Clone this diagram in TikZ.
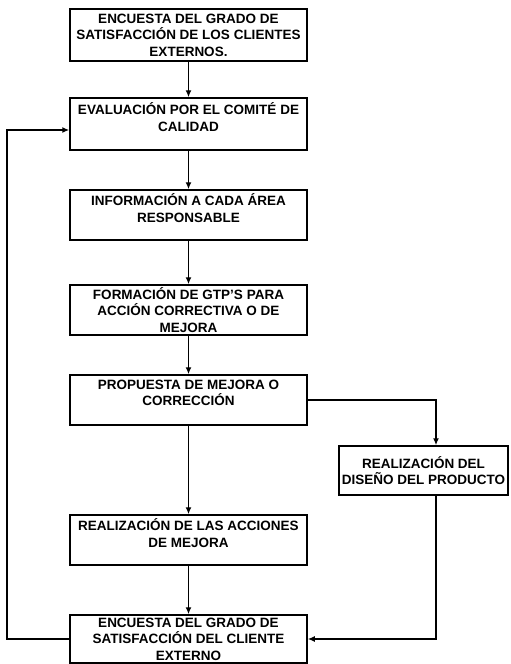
\documentclass[tikz,border=0pt]{standalone}
\usepackage{fontspec}
\setmainfont{Liberation Sans}
\usetikzlibrary{arrows.meta}

\tikzset{
  caja/.style={draw, line width=1.5pt, minimum width=237pt, minimum height=50pt,
    inner sep=2pt, align=center, font=\fontsize{13.5}{16.5}\selectfont\bfseries},
  dos/.style={text depth=14pt},
  flecha/.style={-{Latex[length=7pt,width=6pt]}, line width=1.5pt}
}

\begin{document}
\begin{tikzpicture}[x=1pt, y=-1pt]
  \useasboundingbox (0,0) rectangle (511,664);

  \node[caja, minimum height=52pt] (enc1) at (188.5,35) {ENCUESTA DEL GRADO DE\\SATISFACCIÓN DE LOS CLIENTES\\EXTERNOS.};
  \node[caja, dos, minimum height=52pt] (eval) at (188.5,124) {EVALUACIÓN POR EL COMITÉ DE\\CALIDAD};
  \node[caja, dos] (info) at (188.5,215) {INFORMACIÓN A CADA ÁREA\\RESPONSABLE};
  \node[caja] (gtp) at (188.5,310) {FORMACIÓN DE GTP’S PARA\\ACCIÓN CORRECTIVA O DE\\MEJORA};
  \node[caja, dos] (prop) at (188.5,400) {PROPUESTA DE MEJORA O\\CORRECCIÓN};
  \node[caja, dos] (acc) at (188.5,540) {REALIZACIÓN DE LAS ACCIONES\\DE MEJORA};
  \node[caja, minimum height=48pt] (enc2) at (188.5,639) {ENCUESTA DEL GRADO DE\\SATISFACCIÓN DEL CLIENTE\\EXTERNO};
  \node[caja, minimum width=169pt, minimum height=49pt] (dis) at (423.5,470.5) {REALIZACIÓN DEL\\DISEÑO DEL PRODUCTO};

  \coordinate (col) at (436,0);
  \coordinate (ret) at (7,130);

  \draw[flecha] (enc1) -- (eval);
  \draw[flecha] (eval) -- (info);
  \draw[flecha] (info) -- (gtp);
  \draw[flecha] (gtp) -- (prop);
  \draw[flecha] (prop) -- (acc);
  \draw[flecha] (acc) -- (enc2);
  \draw[flecha] (prop.east) -| (dis.north -| col);
  \draw[flecha] (dis.south -| col) |- (enc2.east);
  \draw[flecha] (enc2.west) -| (ret) -- (ret -| eval.west);
\end{tikzpicture}
\end{document}
